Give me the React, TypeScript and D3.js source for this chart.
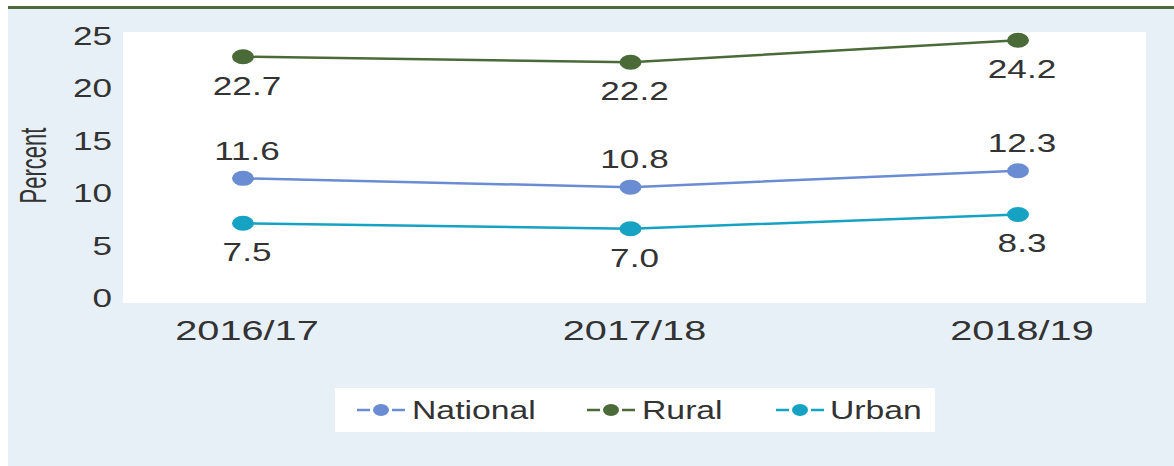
import React from "react";
import * as d3 from "d3";

const years = ["2016/17", "2017/18", "2018/19"];
const national = [11.6, 10.8, 12.3];
const rural = [22.7, 22.2, 24.2];
const urban = [7.5, 7.0, 8.3];
const yTicks = [0, 5, 10, 15, 20, 25];

const series = [
  { name: "National", values: national, color: "#6a8cd2", labelPos: "above" },
  { name: "Rural", values: rural, color: "#4a6b38", labelPos: "below" },
  { name: "Urban", values: urban, color: "#16a2c2", labelPos: "below" },
];

const SX = 1.35;
const FONT = "Liberation Sans, Arial, Helvetica, sans-serif";
const TXT = "#333333";

function SText({ x, y, children, anchor = "middle", size = 26, sx = SX }: any) {
  return (
    <text
      transform={`translate(${x},${y}) scale(${sx},1)`}
      textAnchor={anchor}
      dominantBaseline="central"
      fontSize={size}
      fontFamily={FONT}
      fill={TXT}
    >
      {children}
    </text>
  );
}

export default function App() {
  const W = 1174;
  const H = 466;
  const x = d3.scalePoint<string>().domain(years).range([243, 1018]);
  const y = d3.scaleLinear().domain([0, 25]).range([305.5, 31.5]);
  const yLab = d3.scaleLinear().domain([0, 25]).range([298.5, 36]);
  const line = d3
    .line<number>()
    .x((_, i) => x(years[i]) as number)
    .y((d) => y(d));

  const legendItems = [
    { s: series[0], x0: 357, tx: 412 },
    { s: series[1], x0: 587, tx: 642 },
    { s: series[2], x0: 776, tx: 830 },
  ];

  return (
    <svg
      width={W}
      height={H}
      style={{ position: "fixed", left: 0, top: 0, background: "#ffffff" }}
    >
      <rect x={8} y={8} width={W - 8} height={H - 8} fill="#e8f0f7" />
      <line x1={8} x2={W} y1={7.5} y2={7.5} stroke="#4d6b3c" strokeWidth={3} />
      <rect x={123} y={32} width={1146 - 123} height={303 - 32} fill="#ffffff" />

      {yTicks.map((t) => (
        <SText key={t} x={112} y={yLab(t)} anchor="end">
          {t}
        </SText>
      ))}

      <text
        transform={`translate(33.5,165.5) rotate(-90) scale(1,1.7)`}
        textAnchor="middle"
        dominantBaseline="central"
        fontSize={22}
        fontFamily={FONT}
        fill={TXT}
      >
        Percent
      </text>

      {years.map((yr) => (
        <SText key={yr} x={(x(yr) as number) + 4} y={330} size={27} sx={1.47}>
          {yr}
        </SText>
      ))}

      {series.map((s) => (
        <g key={s.name}>
          <path d={line(s.values) || ""} fill="none" stroke={s.color} strokeWidth={2.5} />
          {s.values.map((v, i) => (
            <ellipse
              key={i}
              cx={x(years[i]) as number}
              cy={y(v)}
              rx={11}
              ry={7.5}
              fill={s.color}
            />
          ))}
          {s.values.map((v, i) => (
            <SText
              key={"l" + i}
              x={(x(years[i]) as number) + 4}
              y={y(v) + (s.labelPos === "above" ? -27.5 : 29)}
            >
              {v.toFixed(1)}
            </SText>
          ))}
        </g>
      ))}

      <rect x={335} y={388} width={935 - 335} height={44} fill="#ffffff" />
      {legendItems.map(({ s, x0, tx }) => (
        <g key={s.name}>
          <line x1={x0} x2={x0 + 13} y1={410} y2={410} stroke={s.color} strokeWidth={2.5} />
          <line x1={x0 + 35} x2={x0 + 48} y1={410} y2={410} stroke={s.color} strokeWidth={2.5} />
          <ellipse cx={x0 + 24} cy={410} rx={8} ry={6} fill={s.color} />
          <SText x={tx} y={410} anchor="start" size={25}>
            {s.name}
          </SText>
        </g>
      ))}
    </svg>
  );
}
